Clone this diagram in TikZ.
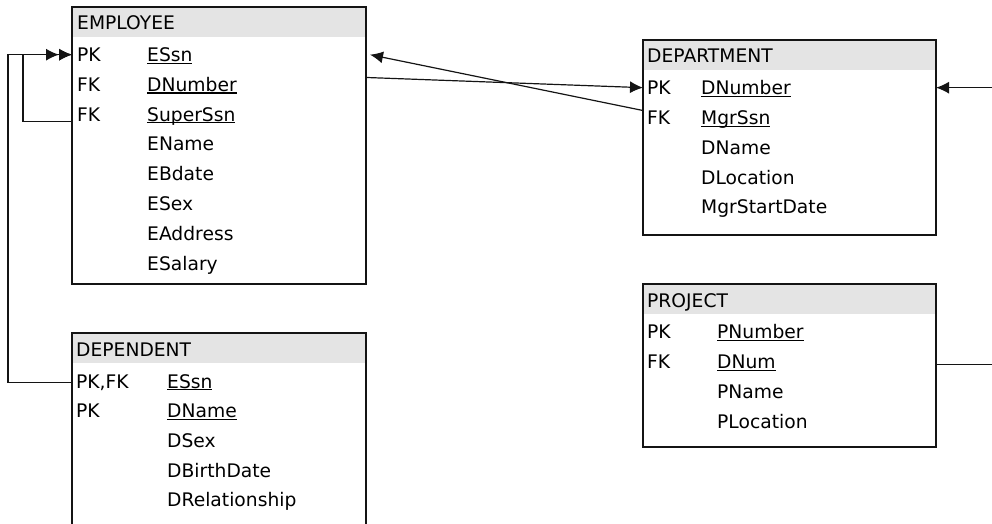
\documentclass[tikz,border=0pt]{standalone}
\usepackage{fontspec}
\setmainfont{DejaVu Sans}
\usetikzlibrary{arrows.meta,positioning,calc}

\definecolor{hdrgray}{HTML}{E4E4E4}
\definecolor{inkdark}{HTML}{141414}

% key columns are underlined at the baseline, not below descenders
\newcommand{\keyname}[1]{\setbox0\hbox{#1}\rlap{\rule[-2.4pt]{\wd0}{1.2pt}}\box0}

\tikzset{
  tbl/.style={draw=inkdark, line width=1.5pt, anchor=north west, inner sep=0pt, outer sep=0pt},
  hdr/.style={fill=hdrgray, anchor=north west, inner sep=0pt, outer sep=0pt, minimum height=30pt},
  fld/.style={anchor=base west, inner sep=0pt, text=black},
  link/.style={draw=inkdark, line width=1.2pt},
  toarrow/.style={-{Latex[length=13pt,width=12pt]}},
  twoarrow/.style={-{Latex[length=13pt,width=12pt]Latex[length=13pt,width=12pt]}},
}

\begin{document}
\begin{tikzpicture}[x=1pt, y=-1pt, font=\fontsize{18.7}{22}\selectfont]
    \useasboundingbox (0,0) rectangle (992,524);
    \clip (0,0) rectangle (992,524);

    % Employee
    \begin{scope}[shift={(72,7)}]
        \node[hdr, minimum width=294pt] (emp-hdr) at (0,0) {};
        \node[tbl, minimum width=294pt, minimum height=277pt] (emp) at (0,0) {};
        \node[fld] (emp-ttl) at (5,23) {EMPLOYEE};
        \foreach \k/\f [count=\i from 0] in {PK/\keyname{ESsn}, FK/\keyname{DNumber}, FK/\keyname{SuperSsn},
                /EName, /EBdate, /ESex, /EAddress, /ESalary} {
            \node[fld] (emp-k\i) at (5,{54.5+29.8*\i}) {\k};
            \node[fld] (emp-f\i) at (75,{54.5+29.8*\i}) {\f};
        }
    \end{scope}

    % Department
    \begin{scope}[shift={(643,40)}]
        \node[hdr, minimum width=293pt] (dept-hdr) at (0,0) {};
        \node[tbl, minimum width=293pt, minimum height=195pt] (dept) at (0,0) {};
        \node[fld] (dept-ttl) at (4,23) {DEPARTMENT};
        \foreach \k/\f [count=\i from 0] in {PK/\keyname{DNumber}, FK/\keyname{MgrSsn},
                /DName, /DLocation, /MgrStartDate} {
            \node[fld] (dept-k\i) at (4,{54.5+29.85*\i}) {\k};
            \node[fld] (dept-f\i) at (58,{54.5+29.85*\i}) {\f};
        }
    \end{scope}

    % Project
    \begin{scope}[shift={(643,284)}]
        \node[hdr, minimum width=293pt] (proj-hdr) at (0,0) {};
        \node[tbl, minimum width=293pt, minimum height=163pt] (proj) at (0,0) {};
        \node[fld] (proj-ttl) at (4,23) {PROJECT};
        \foreach \k/\f [count=\i from 0] in {PK/\keyname{PNumber}, FK/\keyname{DNum}, /PName, /PLocation} {
            \node[fld] (proj-k\i) at (4,{54.5+30*\i}) {\k};
            \node[fld] (proj-f\i) at (74,{54.5+30*\i}) {\f};
        }
    \end{scope}

    % Dependent
    \begin{scope}[shift={(72,333)}]
        \node[hdr, minimum width=294pt] (dep-hdr) at (0,0) {};
        \node[tbl, minimum width=294pt, minimum height=210pt] (dep) at (0,0) {};
        \node[fld] (dep-ttl) at (4,23) {DEPENDENT};
        \foreach \k/\f [count=\i from 0] in {{PK,FK}/\keyname{ESsn}, PK/\keyname{DName},
                /DSex, /DBirthDate, /DRelationship} {
            \node[fld] (dep-k\i) at (4,{55+29.7*\i}) {\k};
            \node[fld] (dep-f\i) at (95,{55+29.7*\i}) {\f};
        }
    \end{scope}

    % links
    \draw[link, toarrow] (emp.west |- emp-k2.base) -- ++(-49,0) |- (emp.west |- emp-k0);
    \draw[link, twoarrow] (dep.west |- dep-k0) -- ++(-64,0) |- (emp.west |- emp-k0);
    \draw[link, toarrow] (emp.east |- emp-k1.north) -- (dept.west |- dept-k0);
    \draw[link, toarrow] (dept.west |- dept-k1.north) -- ($(emp.east |- emp-k0)+(4,0)$);
    \draw[link, toarrow] ($(dept.east |- dept-k0)+(56,0)$) -- (dept.east |- dept-k0);
    \draw[link] ($(proj.east |- proj-k1)+(0,2.5)$) -- ++(56,0);
\end{tikzpicture}
\end{document}
